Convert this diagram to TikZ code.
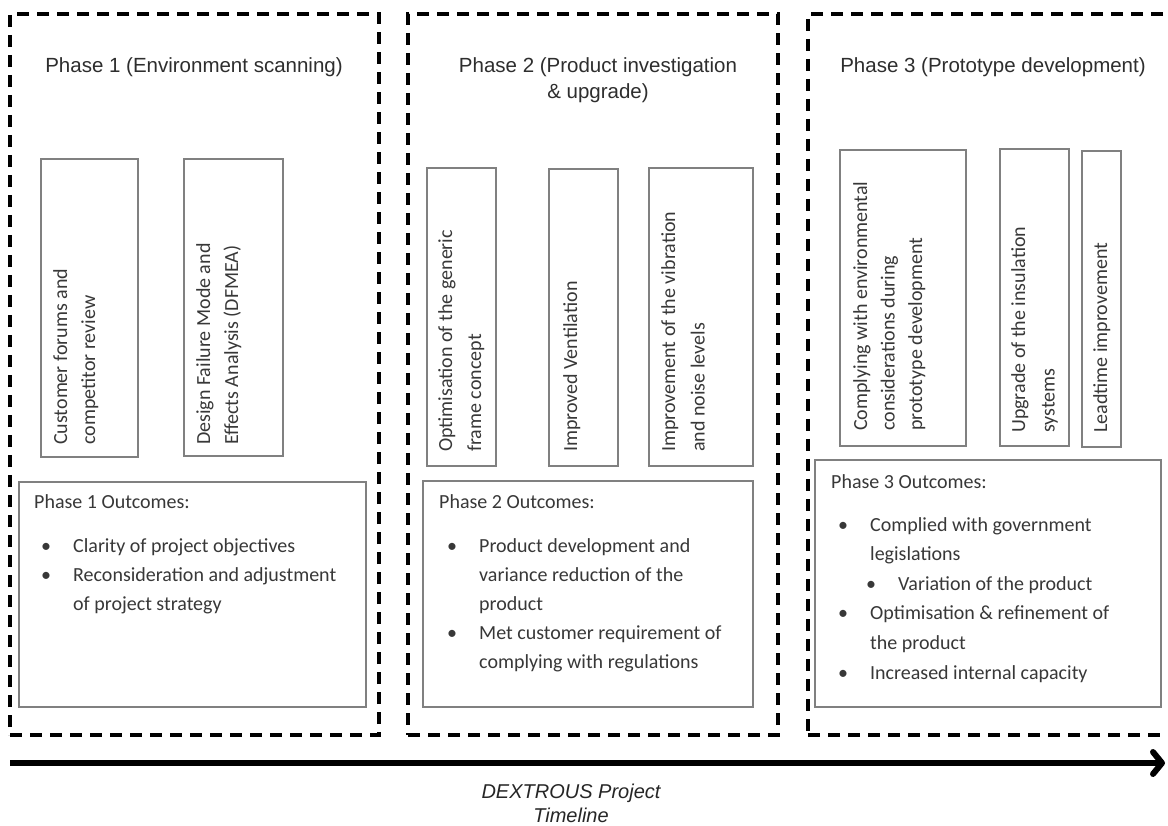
\documentclass[tikz,border=0pt]{standalone}
\usepackage{fontspec}
\setmainfont{Carlito}
\newfontfamily\arialfont{Liberation Sans}
\usetikzlibrary{arrows.meta,fit}
\definecolor{txtgray}{HTML}{383838}
\definecolor{ttlgray}{HTML}{2E2E2E}
\definecolor{bordgray}{HTML}{808080}
\newcommand\itembul{\llap{\textbullet\hspace{22pt}}}
\begin{document}
\begin{tikzpicture}[x=1pt,y=-1pt,
  phasebox/.style={draw=black, line width=3.5pt, dash pattern=on 12pt off 8pt, inner sep=0pt},
  inbox/.style={draw=bordgray, line width=1.5pt, inner sep=0pt},
  ttl/.style={inner sep=0pt, text=ttlgray, font=\arialfont\fontsize{20.5}{26}\selectfont},
  body/.style={inner sep=0pt, text=txtgray, font=\fontsize{20}{29}\selectfont},
  rot/.style={inner sep=0pt, text=txtgray, rotate=90, anchor=base west, font=\fontsize{20}{28}\selectfont},
  tl/.style={inner sep=0pt, text=black!85, font=\arialfont\itshape\fontsize{20}{24}\selectfont}]
\clip (0,0) rectangle (1168,826);
\fill[white] (0,0) rectangle (1168,826);

% phase frames
\node[phasebox, fit={(10,14) (379,735)}] (p1) {};
\node[phasebox, fit={(408,14) (778,735)}] (p2) {};
\node[phasebox, fit={(808,14) (1195,735)}] (p3) {};

% titles
\node[ttl, anchor=base] (t1) at (194,73) {Phase 1 (Environment scanning)};
\node[ttl, anchor=base] (t2) at (598,73) {\begin{tabular}[t]{@{}c@{}}Phase 2 (Product investigation\\ \& upgrade)\end{tabular}};
\node[ttl, anchor=base] (t3) at (993,73) {Phase 3 (Prototype development)};

% phase 1 boxes
\node[inbox, fit={(41,159) (138,457)}] (bA) {};
\node[inbox, fit={(184,159) (283,456)}] (bB) {};
\node[rot] (tA) at (67,445) {\begin{tabular}[t]{@{}l@{}}Customer forums and\\competitor review\end{tabular}};
\node[rot] (tB) at (210,445) {\begin{tabular}[t]{@{}l@{}}Design Failure Mode and\\Effects Analysis (DFMEA)\end{tabular}};

% phase 2 boxes
\node[inbox, fit={(427,168) (496,466)}] (bC) {};
\node[inbox, fit={(549,169) (618,466)}] (bD) {};
\node[inbox, fit={(649,168) (753,466)}] (bE) {};
\node[rot, font=\fontsize{20}{29}\selectfont] (tC) at (452,452) {\begin{tabular}[t]{@{}l@{}}Optimisation of the generic\\frame concept\end{tabular}};
\node[rot] (tD) at (577,452) {Improved Ventilation};
\node[rot, font=\fontsize{20}{29.5}\selectfont] (tE) at (675,452) {\begin{tabular}[t]{@{}l@{}}Improvement of the vibration\\and noise levels\end{tabular}};

% phase 3 boxes
\node[inbox, fit={(840,150) (966,446)}] (bF) {};
\node[inbox, fit={(1000,149) (1069,446)}] (bG) {};
\node[inbox, fit={(1082,151) (1121,447)}] (bH) {};
\node[rot, font=\fontsize{20}{27.5}\selectfont] (tF) at (867,431) {\begin{tabular}[t]{@{}l@{}}Complying with environmental\\considerations during\\prototype development\end{tabular}};
\node[rot, font=\fontsize{20}{29.5}\selectfont] (tG) at (1025,433) {\begin{tabular}[t]{@{}l@{}}Upgrade of the insulation\\systems\end{tabular}};
\node[rot] (tH) at (1107,433) {Leadtime improvement};

% outcomes
\node[inbox, fit={(19,482) (366,707)}] (o1) {};
\node[body, anchor=base west] (h1) at (34,508) {Phase 1 Outcomes:};
\node[body, anchor=base west] (l1) at (73,552) {\begin{tabular}[t]{@{}l@{}}\itembul Clarity of project objectives\\ \itembul Reconsideration and adjustment\\ of project strategy\end{tabular}};

\node[inbox, fit={(423,481) (753,707)}] (o2) {};
\node[body, anchor=base west] (h2) at (439,508) {Phase 2 Outcomes:};
\node[body, anchor=base west] (l2) at (479,552) {\begin{tabular}[t]{@{}l@{}}\itembul Product development and\\ variance reduction of the\\ product\\ \itembul Met customer requirement of\\ complying with regulations\end{tabular}};

\node[inbox, fit={(815,460) (1161,707)}] (o3) {};
\node[body, anchor=base west] (h3) at (831,488) {Phase 3 Outcomes:};
\node[body, anchor=base west, font=\fontsize{20}{29.6}\selectfont] (l3) at (870,531) {\begin{tabular}[t]{@{}l@{}}\itembul Complied with government\\ legislations\\ \hspace*{28pt}\itembul Variation of the product\\ \itembul Optimisation \& refinement of\\ the product\\ \itembul Increased internal capacity\end{tabular}};

% timeline
\coordinate (ts) at (10,763);
\coordinate (te) at (1165,763);
\draw[line width=6pt, -{Straight Barb[length=9pt,width=22pt,line cap=round,line join=round]}] (ts) -- (te);
\node[tl, anchor=base] (tl1) at (571,798) {\begin{tabular}[t]{@{}c@{}}DEXTROUS Project\\Timeline\end{tabular}};
\end{tikzpicture}
\end{document}
